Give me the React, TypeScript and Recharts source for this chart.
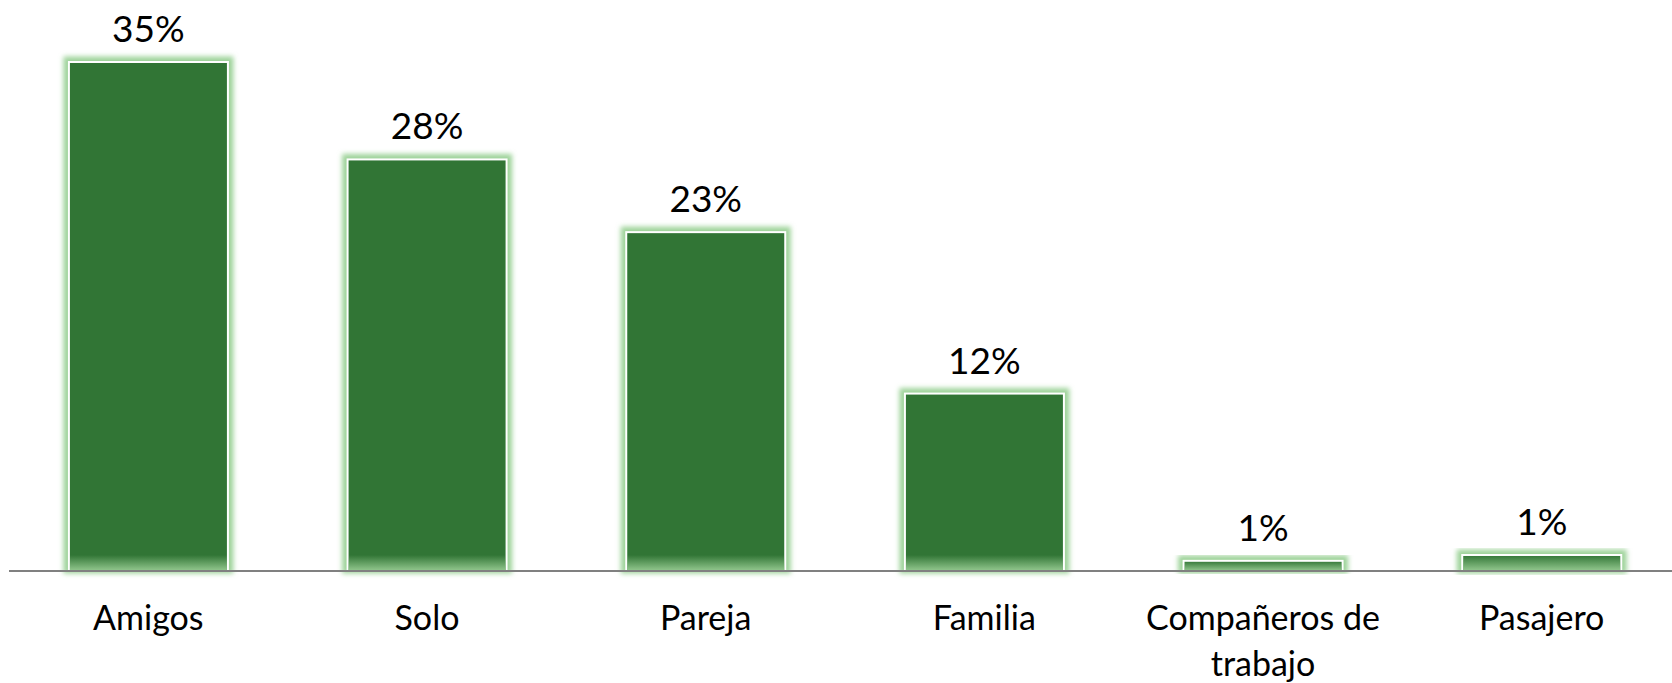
import { BarChart, Bar, XAxis, YAxis, LabelList } from 'recharts';

const categories = ['Amigos', 'Solo', 'Pareja', 'Familia', 'Compañeros de trabajo', 'Pasajero'];
const shares = [35, 28.3, 23.3, 12.2, 0.7, 1.1];

const data = categories.map((name, i) => ({ name, value: shares[i] }));

const FONT = 'Lato, "Open Sans", sans-serif';

// glow + white rim like the office "glow" bar style
function GlowBar(props: any) {
  const { x, y, width, height } = props;
  if (height <= 0) return null;
  const fade = Math.min(16, height);
  return (
    <g>
      <rect x={x - 3} y={y - 3} width={width + 6} height={height + 3} fill="#9ed39a" stroke="#9ed39a" strokeWidth={5} filter="url(#barGlow)" />
      <rect x={x} y={y} width={width} height={height} fill="#317535" stroke="#ffffff" strokeWidth={2} />
      <rect x={x + 1} y={y + height - fade} width={width - 2} height={fade} fill="url(#bottomFade)" />
    </g>
  );
}

function WrappedTick(props: any) {
  const { x, y, payload } = props;
  const words: string[] = String(payload.value).split(' ');
  const lines: string[] = words.length > 2 ? [words.slice(0, -1).join(' '), words[words.length - 1]] : [payload.value];
  return (
    <text x={x} y={y} textAnchor="middle" fill="#000" fontFamily={FONT} fontSize={34}>
      {lines.map((l, i) => (
        <tspan key={i} x={x} dy={i === 0 ? 51 : 46}>{l}</tspan>
      ))}
    </text>
  );
}

export default function App() {
  return (
    <div style={{ position: 'absolute', left: 0, top: 0, width: 1672, height: 683, overflow: 'hidden', background: '#fff' }}>
      <BarChart width={1681} height={683} data={data} margin={{ top: 62, right: 0, bottom: 0, left: 9 }} barCategoryGap="21.5%">
        <defs>
          <filter id="barGlow" x="-20%" y="-20%" width="140%" height="140%">
            <feGaussianBlur stdDeviation="2.5" />
          </filter>
          <linearGradient id="bottomFade" x1="0" y1="0" x2="0" y2="1">
            <stop offset="0%" stopColor="#a6d8a0" stopOpacity={0} />
            <stop offset="100%" stopColor="#a6d8a0" stopOpacity={0.85} />
          </linearGradient>
        </defs>
        <YAxis hide domain={[0, 35]} />
        <XAxis
          dataKey="name"
          height={112}
          interval={0}
          tickLine={false}
          axisLine={{ stroke: '#808080', strokeWidth: 2 }}
          tick={<WrappedTick />}
        />
        <Bar dataKey="value" shape={<GlowBar />} isAnimationActive={false}>
          <LabelList
            dataKey="value"
            position="top"
            offset={20}
            formatter={(v: any) => `${Math.round(Number(v))}%`}
            style={{ fill: '#000', fontFamily: FONT, fontSize: 37 }}
          />
        </Bar>
      </BarChart>
    </div>
  );
}
